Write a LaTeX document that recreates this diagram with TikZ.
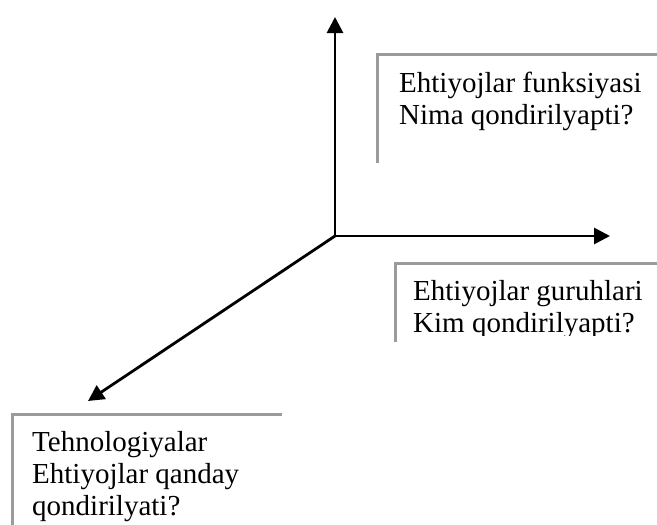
\documentclass[tikz,border=0pt]{standalone}
\usepackage{fontspec}
\setmainfont{Liberation Serif}
\usepackage{tikz}
\usepackage{xcolor}
\usetikzlibrary{arrows.meta,positioning}
\definecolor{nzgrey}{RGB}{155,155,155}
\tikzset{
  nzframe/.style={draw=nzgrey, line width=3pt},
  nzarr/.style={-{Triangle[length=16pt, width=16pt]}, line width=2.8pt, draw=black},
  nztext/.style={align=left, inner sep=0pt, anchor=base west, font=\fontsize{29}{32}\selectfont}
}
\begin{document}
\begin{tikzpicture}[x=1pt, y=-1pt]
  \useasboundingbox (0,0) rectangle (657,525);
  \coordinate (origin) at (335,236);
  \coordinate (tipup) at (335,17);
  \coordinate (tipright) at (610,236);
  \coordinate (tipdown) at (88,401);
  \draw[nzarr] (origin) -- (tipup);
  \draw[nzarr] (origin) -- (tipright);
  \draw[nzarr] (origin) -- (tipdown);
  \draw[nzframe] (377,163) -- (377,54) -- (657,54);
  \draw[nzframe] (395,342) -- (395,263) -- (657,263);
  \draw[nzframe] (12,525) -- (12,414) -- (282,414);
  \node[nztext] (funksiya) at (399,124) {Ehtiyojlar funksiyasi\\Nima qondirilyapti?};
  \begin{scope}
    \clip (395,263) rectangle (657,335);
    \node[nztext] (guruh) at (413,332) {Ehtiyojlar guruhlari\\Kim qondirilyapti?};
  \end{scope}
  \node[nztext] (texno) at (32,515) {Tehnologiyalar\\Ehtiyojlar qanday\\qondirilyati?};
\end{tikzpicture}
\end{document}
